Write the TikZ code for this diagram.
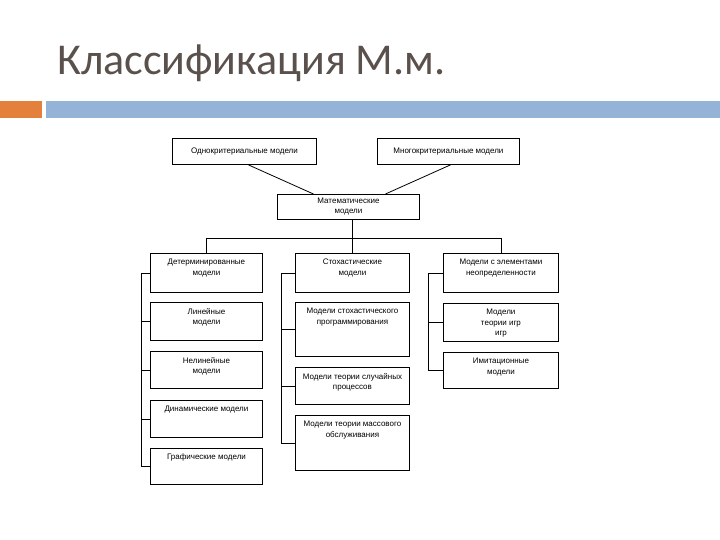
\documentclass[tikz,border=0pt]{standalone}
\usepackage{fontspec}
\setmainfont{Liberation Sans}
\newfontfamily\titlefont{Carlito}
\usetikzlibrary{calc}
\definecolor{ttl}{RGB}{90,80,76}
\definecolor{orangebar}{RGB}{226,128,60}
\definecolor{bluebar}{RGB}{149,179,215}
\begin{document}
\begin{tikzpicture}[x=1pt,y=-1pt,
  mbox/.style 2 args={draw, line width=0.9pt, anchor=north west, inner sep=0pt,
    minimum width=#1pt, minimum height=#2pt, align=center,
    font=\fontsize{8}{10}\selectfont},
  toptext/.style={label={[anchor=north, yshift=-6pt, inner sep=0pt, align=center,
    font=\fontsize{8}{10.5}\selectfont]north:#1}},
  conn/.style={line width=0.8pt}]
\useasboundingbox (0,0) rectangle (720,540);
% header
\node[anchor=base west, font=\titlefont\fontsize{44}{50}\selectfont, text=ttl, inner sep=0pt] (title) at (57,75) {Классификация М.м.};
\fill[orangebar] (0,101) rectangle (42,118);
\fill[bluebar] (46,101) rectangle (720,118);
% boxes
\node[mbox={144}{26}] (odno) at (172,138) {Однокритериальные модели};
\node[mbox={142}{26}] (mnogo) at (377,138) {Многокритериальные модели};
\node[mbox={142}{25}] (mat) at (277,194) {Математические\\модели};
\node[mbox={112}{39}, toptext={Детерминированные\\модели}] (det) at (150,253) {};
\node[mbox={114}{39}, toptext={Стохастические\\модели}] (stoch) at (295,253) {};
\node[mbox={115}{39}, toptext={Модели с элементами\\неопределенности}] (neopr) at (443,253) {};
\node[mbox={112}{38}, toptext={Линейные\\модели}] (lin) at (150,302) {};
\node[mbox={114}{54}, toptext={Модели стохастического\\программирования}] (stprog) at (295,302) {};
\node[mbox={115}{38}, toptext={Модели\\теории игр\\игр}] (games) at (443,303) {};
\node[mbox={112}{37}, toptext={Нелинейные\\модели}] (nonlin) at (150,351) {};
\node[mbox={114}{37}, toptext={Модели теории случайных\\процессов}] (randproc) at (295,367) {};
\node[mbox={115}{36}, toptext={Имитационные\\модели}] (imit) at (443,352) {};
\node[mbox={112}{37}, toptext={Динамические модели}] (dyn) at (150,400) {};
\node[mbox={114}{55}, toptext={Модели теории массового\\обслуживания}] (mass) at (295,415) {};
\node[mbox={112}{36}, toptext={Графические модели}] (graph) at (150,448) {};
% connectors
\draw[conn] ($(odno.south)+(4,0)$) -- ($(mat.north)+(-35,0)$);
\draw[conn] ($(mnogo.south)+(2,0)$) -- ($(mat.north)+(37,0)$);
\draw[conn] (mat.south -| stoch.north) -- (stoch.north);
\draw[conn] (det.north) -- ++(0,-15) -| (neopr.north);
\coordinate (ls) at (141,0);
\coordinate (ms) at (281,0);
\coordinate (rs) at (428,0);
\draw[conn] (det.west) -- (det.west -| ls) -- (graph.west -| ls) -- (graph.west);
\foreach \n in {lin,nonlin,dyn} \draw[conn] (\n.west) -- (\n.west -| ls);
\draw[conn] (stoch.west) -- (stoch.west -| ms) -- (mass.west -| ms) -- (mass.west);
\foreach \n in {stprog,randproc} \draw[conn] (\n.west) -- (\n.west -| ms);
\draw[conn] (neopr.west) -- (neopr.west -| rs) -- (imit.west -| rs) -- (imit.west);
\draw[conn] (games.west) -- (games.west -| rs);
\end{tikzpicture}
\end{document}
